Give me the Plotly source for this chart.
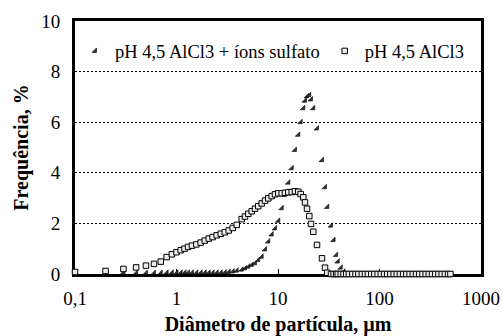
import plotly.graph_objects as go

# Diâmetro de partícula (µm)
diametro = [0.1, 0.2, 0.3, 0.4, 0.5, 0.6, 0.7, 0.8, 0.9, 1.0, 1.1, 1.2, 1.3,
            1.42, 1.57, 1.73, 1.90, 2.08, 2.27, 2.49, 2.73, 2.99, 3.27, 3.58,
            3.92, 4.39, 4.73, 5.10, 5.51, 5.93, 6.39, 6.91, 7.45, 8.02, 8.67,
            9.34, 10.07, 10.88, 11.72, 12.64, 13.65, 14.71, 15.85, 16.73,
            17.76, 18.45, 19.31, 20.34, 21.14, 22.27, 24.23, 27.13, 29.05,
            30.6, 33.3, 35.3, 37.4, 38.8, 41.5, 44.2,
            47, 50, 54, 58, 62, 67, 72, 77, 83, 89, 96, 103, 111, 119, 128,
            138, 148, 159, 171, 184, 198, 213, 229, 246, 265, 285, 306, 329,
            354, 381, 410, 441, 474, 500]

# pH 4,5 AlCl3 + íons sulfato (%)
freq_sulfato = [None, None, 0.05, 0.04, 0.04, 0.04, 0.04, 0.05, 0.05, 0.05,
                0.05, 0.05, 0.05, 0.05, 0.05, 0.05, 0.05, 0.05, 0.05, 0.05,
                0.05, 0.06, 0.08, 0.10, 0.13, 0.17, 0.22, 0.29, 0.36, 0.42,
                0.55, 0.68, 0.97, 1.28, 1.56, 1.80, 2.10, 2.60, 3.12, 3.61,
                4.18, 4.90, 5.50, 6.00, 6.55, 6.85, 7.02, 7.07, 6.90, 6.55,
                5.75, 4.50, 3.43, 2.65, 1.91, 1.34, 0.75, 0.49, 0.25, 0.09,
                0, 0, 0, 0, 0, 0, 0, 0, 0, 0, 0, 0, 0, 0, 0, 0, 0, 0, 0, 0,
                0, 0, 0, 0, 0, 0, 0, 0, 0, 0, 0, 0, 0, 0]

# pH 4,5 AlCl3 (%)
freq_alcl3 = [0.08, 0.12, 0.20, 0.26, 0.33, 0.40, 0.49, 0.67, 0.78, 0.86,
              0.94, 1.00, 1.07, 1.12, 1.17, 1.24, 1.32, 1.40, 1.46, 1.53,
              1.59, 1.65, 1.72, 1.82, 1.94, 2.17, 2.27, 2.38, 2.48, 2.58,
              2.68, 2.79, 2.90, 2.99, 3.08, 3.15, 3.19, 3.19, 3.21, 3.23,
              3.24, 3.27, 3.25, 3.16, 3.03, 2.83, 2.58, 2.29, 1.98, 1.67,
              1.15, 0.62, 0.25, 0.05, 0, 0, 0, 0, 0, 0,
              0, 0, 0, 0, 0, 0, 0, 0, 0, 0, 0, 0, 0, 0, 0, 0, 0, 0, 0, 0,
              0, 0, 0, 0, 0, 0, 0, 0, 0, 0, 0, 0, 0, 0]

nomes = ["pH 4,5 AlCl3 + íons sulfato", "pH 4,5 AlCl3"]
x_ticks = [0.1, 1, 10, 100, 1000]
x_tick_text = ["0,1", "1", "10", "100", "1000"]

FONT = "Liberation Serif, Times New Roman, serif"

fig = go.Figure()
fig.add_trace(go.Scatter(
    x=diametro, y=freq_sulfato, name=nomes[0], mode="markers",
    marker=dict(symbol="triangle-se", size=5, color="#333333",
                line=dict(color="black", width=0.6)),
    cliponaxis=False))
fig.add_trace(go.Scatter(
    x=diametro, y=freq_alcl3, name=nomes[1], mode="markers",
    marker=dict(symbol="square", size=5.5, color="#ececec",
                line=dict(color="black", width=1)),
    cliponaxis=False))

fig.update_layout(
    width=503, height=336,
    margin=dict(l=75, r=22, t=21, b=62, autoexpand=False),
    paper_bgcolor="white", plot_bgcolor="white",
    font=dict(family=FONT, size=18, color="black"),
    legend=dict(orientation="h", x=0.0, y=0.955, xanchor="left",
                yanchor="top", bgcolor="rgba(0,0,0,0)",
                font=dict(family=FONT, size=18.5, color="black"),
                itemwidth=30, tracegroupgap=0),
)
fig.update_xaxes(
    type="log", range=[-1, 3], tickvals=x_ticks, ticktext=x_tick_text,
    showgrid=False, zeroline=False, automargin=False,
    showline=True, linewidth=3, linecolor="black", mirror=True,
    ticks="inside", ticklen=5, tickwidth=1, tickcolor="black",
    layer="below traces",
    tickfont=dict(family=FONT, size=19),
    ticklabelstandoff=5,
    title=dict(text="<b>Diâmetro de partícula, µm</b>",
               font=dict(family=FONT, size=20, color="black"), standoff=12),
)
fig.update_yaxes(
    range=[0, 10], dtick=2, tick0=0, automargin=False,
    showgrid=True, gridcolor="black", gridwidth=1, griddash="2px,2px",
    zeroline=False,
    showline=True, linewidth=3, linecolor="black", mirror=True,
    ticks="", layer="below traces",
    tickfont=dict(family=FONT, size=19),
    ticklabelstandoff=8,
    title=dict(text="<b>Frequência, %</b>",
               font=dict(family=FONT, size=20, color="black"), standoff=8),
)

fig.write_html("out.html")
